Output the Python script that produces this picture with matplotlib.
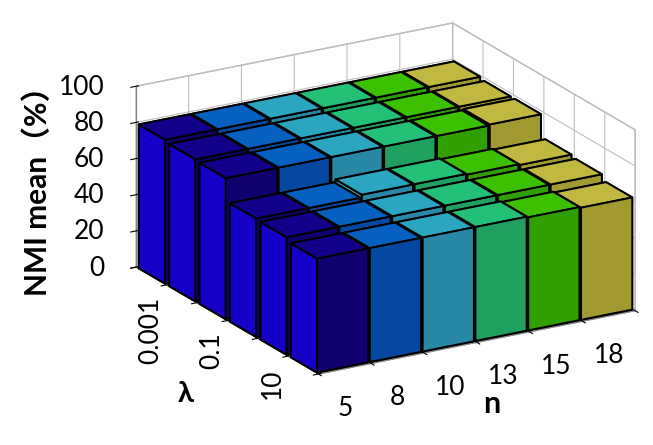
"""Stacked-row 3D bars of NMI mean against n and lambda, saved to out.png."""

import numpy as np
import matplotlib
matplotlib.use("Agg")
import matplotlib.pyplot as plt
from mpl_toolkits.mplot3d import proj3d

FONT = ["Lato", "Noto Sans CJK SC", "DejaVu Sans"]
plt.rcParams["font.family"] = FONT

n_labels = ["5", "8", "10", "13", "15", "18"]
lambda_labels = ["0.001", "0.1", "10"]
z_ticks = [0, 20, 40, 60, 80, 100]

# rows run back to front (lambda grows toward the viewer)
nmi = [
    [79.5, 79.5, 79.5, 79.5, 79.5, 79.5],
    [78.5, 78.5, 78.5, 78.5, 78.5, 78.5],
    [78, 78, 78, 78, 78, 78.5],
    [65.5, 65.5, 67, 67, 66.5, 66],
    [65, 65, 65, 65, 65, 65],
    [63, 63, 63, 63, 62.5, 62],
]

top_colors = ["#12008a", "#0560c0", "#2ca5c0", "#25c078", "#3cc000", "#c0b840"]
front_colors = ["#10006f", "#0448a0", "#2888a5", "#20a060", "#30a000", "#a09a30"]
left_colors = ["#1500c8", "#0456b0", "#2a98b2", "#22b06c", "#36b000", "#b0a938"]

bar_dx = 0.97
bar_dy = 0.86

fig = plt.figure(figsize=(6.53, 4.45), dpi=100)
ax = fig.add_axes([53 / 653, 18 / 445, 1.0, 1.0], projection="3d", proj_type="ortho")
ax.view_init(elev=20, azim=-120.3)
ax.set_box_aspect((366, 361, 192), zoom=1.2)

# ── Bars ──────────────────────────────────────────────────────────────────
values = np.asarray(nmi, dtype=float)
n_rows, n_cols = values.shape
col_idx, row_idx = np.meshgrid(np.arange(n_cols), np.arange(n_rows))
xs = col_idx.ravel() + (1 - bar_dx) / 2
ys = row_idx.ravel() + (1 - bar_dy) / 2
face_colors = []
for c in col_idx.ravel():
    # face order used by bar3d: -z, +z, -y, +y, -x, +x
    face_colors += [front_colors[c], top_colors[c], front_colors[c],
                    front_colors[c], left_colors[c], left_colors[c]]
bars = ax.bar3d(xs, ys, 0, bar_dx, bar_dy, values.ravel(), color=face_colors,
                shade=False, edgecolor="black", linewidth=1.4)
bars.set_clip_on(False)

ax.set_xlim(0, n_cols, view_margin=0)
ax.set_ylim(n_rows, 0, view_margin=0)
ax.set_zlim(0, 100, view_margin=0)

# ── Box and ticks ─────────────────────────────────────────────────────────
ax.set_xticks(np.arange(n_cols + 1))
ax.set_yticks(np.arange(n_rows + 1))
ax.set_zticks(z_ticks)
ax.set_xticklabels([])
ax.set_yticklabels([])
ax.set_zticklabels([])
for axis in (ax.xaxis, ax.yaxis, ax.zaxis):
    axis.set_pane_color((1, 1, 1, 1))
    axis.pane.set_edgecolor("0.7")
    axis._axinfo["grid"].update(color="0.75", linewidth=0.8)
    axis._axinfo["tick"].update(color="0.5", linewidth={True: 0.8, False: 0.5})
    axis.line.set_color("0.5")


def label_at(x, y, z, text, **kwargs):
    """Flat text anchored at a 3D data point."""
    px, py, _ = proj3d.proj_transform(x, y, z, ax.get_proj())
    ax.text2D(px, py, text, transform=ax.transData, **kwargs)


# ── Labels ────────────────────────────────────────────────────────────────
for i, label in enumerate(n_labels):
    label_at(i + 0.5, n_rows, -22, label, fontsize=19, ha="center", va="center")
for i, label in enumerate(lambda_labels):
    label_at(0, 2 * i + 0.5, -11.6, label, fontsize=19, rotation=90, ha="center", va="top")
for z in z_ticks:
    label_at(-0.6, 0, z + 3, str(z), fontsize=19, ha="right", va="center")
label_at(3.28, n_rows, -36, "n", fontsize=22, fontweight="bold", ha="center", va="center")
label_at(0, 1.65, -54, "λ", fontsize=21, fontweight="bold", ha="center", va="center")
fig.text(0.057, 0.586, "NMI mean（%）", fontsize=21.5, fontweight="bold", rotation=90,
         ha="center", va="center")

fig.savefig("out.png", dpi=100)
plt.close(fig)
